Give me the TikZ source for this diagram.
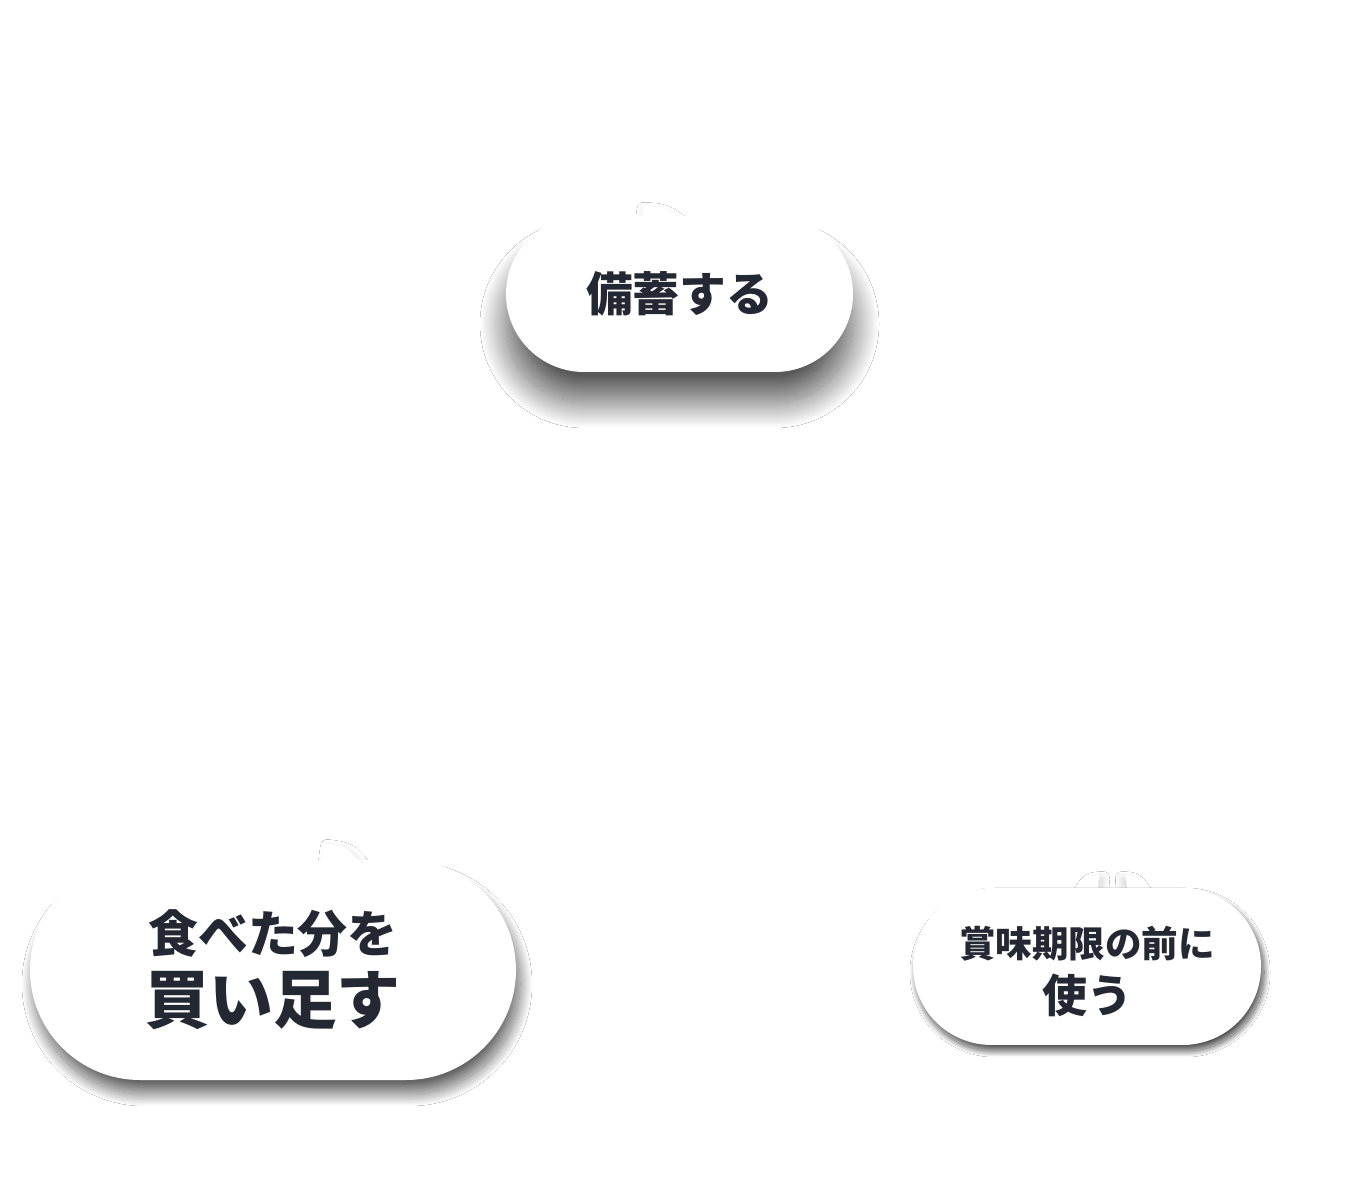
\documentclass[tikz,border=0pt]{standalone}
\usepackage{fontspec}
\newfontfamily\jp{Noto Sans CJK JP}
\usetikzlibrary{shapes.misc,shadows.blur}
\definecolor{ink}{HTML}{232833}

\begin{document}
\begin{tikzpicture}[
    bubble/.style={rounded rectangle, fill=white, text=ink, align=center,
      inner sep=0pt, font=\jp\bfseries},
    tail/.style={fill=white},
    soft/.style={shadow blur steps=40}
  ]
      \useasboundingbox[fill=white] (0,0) rectangle (13.6,12.01);

      % top bubble
      \fill[tail, blur shadow={soft, shadow xshift=0pt, shadow yshift=-1pt, shadow blur radius=2pt, shadow opacity=10}]
        (6.42,9.80) -- (6.44,9.95) .. controls (6.64,9.94) .. (6.85,9.80) -- cycle;
      \node[bubble, minimum width=3.47cm, minimum height=1.56cm,
        blur shadow={soft, shadow xshift=0pt, shadow yshift=-0.30cm, shadow blur radius=0.26cm, shadow opacity=65}]
        (stock) at (6.795,9.07) {\fontsize{13.3pt}{15pt}\selectfont 備蓄する};

      % bottom left bubble
      \fill[tail, blur shadow={soft, shadow xshift=1pt, shadow yshift=-1pt, shadow blur radius=2pt, shadow opacity=12}]
        (3.21,3.36) -- (3.24,3.58) .. controls (3.46,3.55) .. (3.62,3.36) -- cycle;
      \node[bubble, minimum width=4.86cm, minimum height=2.20cm,
        blur shadow={soft, shadow xshift=0.04cm, shadow yshift=-0.14cm, shadow blur radius=0.12cm, shadow opacity=60}]
        (buy) at (2.73,2.31) {\fontsize{14.2pt}{17.5pt}\selectfont 食べた分を\\[3pt]
          \fontsize{18.2pt}{20pt}\selectfont 買い足す};

      % bottom right bubble
      \fill[tail, blur shadow={soft, shadow xshift=1pt, shadow yshift=-1pt, shadow blur radius=2pt, shadow opacity=18}]
        (10.98,3.10) -- (10.99,3.26) .. controls (10.85,3.25) .. (10.75,3.10) -- cycle;
      \fill[tail, blur shadow={soft, shadow xshift=-1pt, shadow yshift=-1pt, shadow blur radius=2pt, shadow opacity=18}]
        (11.27,3.10) -- (11.26,3.26) .. controls (11.40,3.25) .. (11.50,3.10) -- cycle;
      \node[bubble, minimum width=3.48cm, minimum height=1.57cm,
        blur shadow={soft, shadow xshift=0.03cm, shadow yshift=-0.06cm, shadow blur radius=0.06cm, shadow opacity=70}]
        (use) at (10.87,2.345) {};
      \node[bubble, fill=none] (usetext) at ([yshift=-0.05cm]use.center)
        {\fontsize{10.4pt}{13pt}\selectfont 賞味期限の前に\\[2.5pt]
          \fontsize{12.8pt}{14pt}\selectfont 使う};
\end{tikzpicture}
\end{document}
